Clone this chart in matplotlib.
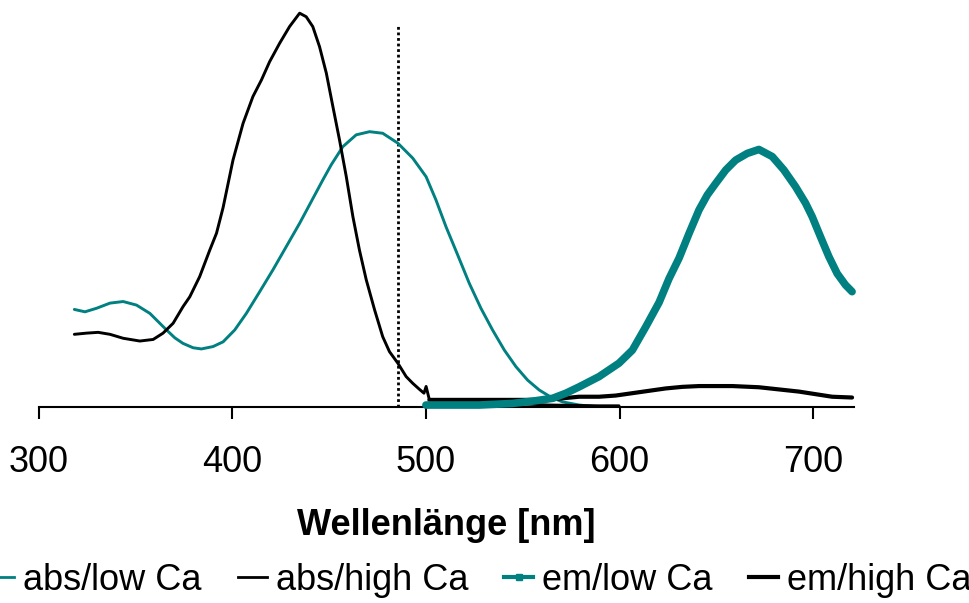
import numpy as np
import matplotlib
matplotlib.use("Agg")
from matplotlib import pyplot as plt
from matplotlib.lines import Line2D

plt.rcParams['font.family'] = ['Liberation Sans', 'DejaVu Sans']

TEAL = '#008080'

# absorption, low Ca (teal thin)
abs_low_x = [318.5, 324.0, 330.0, 336.9, 343.7, 350.6, 357.5, 361.8, 366.1, 370.4,
             374.6, 379.8, 384.1, 390.1, 395.3, 401.3, 407.3, 414.2, 421.0, 427.9,
             434.8, 440.8, 446.8, 451.1, 457.1, 464.0, 470.9, 477.7, 485.5, 493.2,
             500.1, 505.2, 510.4, 516.4, 522.4, 528.4, 534.4, 540.5, 546.5, 552.5,
             558.5, 564.5, 570.5, 579.1, 587.7, 599.7]
abs_low_y = [0.247, 0.241, 0.250, 0.263, 0.267, 0.258, 0.237, 0.216, 0.195, 0.175,
             0.161, 0.150, 0.147, 0.153, 0.165, 0.195, 0.237, 0.292, 0.347, 0.406,
             0.465, 0.520, 0.575, 0.613, 0.659, 0.689, 0.697, 0.693, 0.668, 0.630,
             0.583, 0.524, 0.456, 0.385, 0.313, 0.250, 0.195, 0.144, 0.102, 0.068,
             0.043, 0.025, 0.013, 0.005, 0.001, 0.0]

# absorption, high Ca (black thin)
abs_high_x = [318.5, 324.8, 330.8, 336.9, 343.7, 352.3, 359.2, 364.3, 369.5, 374.6,
              378.1, 383.2, 388.4, 391.9, 395.3, 400.4, 405.6, 410.7, 415.1, 419.3,
              424.5, 429.6, 434.8, 438.2, 441.6, 445.1, 448.6, 452.0, 455.4, 458.9,
              462.3, 465.7, 469.2, 473.5, 477.7, 481.2, 485.5, 489.8, 493.2, 496.6,
              499.0, 500.1, 501.8, 537.9, 563.7, 589.5, 599.7]
abs_high_y = [0.184, 0.187, 0.189, 0.184, 0.174, 0.167, 0.171, 0.187, 0.212, 0.254,
              0.279, 0.330, 0.397, 0.440, 0.505, 0.625, 0.718, 0.786, 0.828, 0.874,
              0.921, 0.963, 0.997, 0.988, 0.963, 0.912, 0.845, 0.760, 0.676, 0.583,
              0.482, 0.397, 0.322, 0.246, 0.178, 0.140, 0.111, 0.077, 0.060, 0.045,
              0.035, 0.052, 0.018, 0.010, 0.005, 0.003, 0.003]

# emission, low Ca (teal thick)
em_low_x = [500.0, 527.6, 544.7, 556.8, 565.4, 572.3, 579.1, 589.4, 599.7, 606.6,
            613.5, 620.4, 625.5, 630.7, 635.9, 641.0, 645.3, 649.6, 654.8, 659.9,
            665.9, 671.9, 678.8, 684.8, 690.8, 696.0, 699.4, 703.7, 708.0, 712.3,
            716.6, 720.0]
em_low_y = [0.005, 0.005, 0.009, 0.016, 0.022, 0.035, 0.051, 0.077, 0.111, 0.144,
            0.203, 0.265, 0.325, 0.377, 0.440, 0.499, 0.537, 0.566, 0.600, 0.625,
            0.642, 0.652, 0.634, 0.600, 0.558, 0.516, 0.482, 0.431, 0.381, 0.338,
            0.309, 0.292]

# emission, high Ca (black thick)
em_high_x = [501.8, 530.0, 562.0, 579.1, 589.4, 598.0, 606.6, 615.2, 623.8, 632.4,
             641.0, 658.2, 671.9, 692.6, 709.7, 720.0]
em_high_y = [0.018, 0.018, 0.018, 0.026, 0.026, 0.029, 0.035, 0.041, 0.047, 0.051,
             0.053, 0.053, 0.050, 0.039, 0.026, 0.024]

excitation_nm = 485.5
labels = ['abs/low Ca', 'abs/high Ca', 'em/low Ca', 'em/high Ca']
xticks = [300, 400, 500, 600, 700]

fig = plt.figure(figsize=(9.7, 6.03), dpi=100)
ax = fig.add_axes([38.5 / 970, 196 / 603, (854 - 38.5) / 970, 407 / 603])

style = dict(solid_joinstyle='round', solid_capstyle='round')
ax.plot(abs_low_x, abs_low_y, color=TEAL, lw=2.1, zorder=2, **style)
ax.plot(abs_high_x, abs_high_y, color='black', lw=2.1, zorder=2, **style)
ax.plot(em_high_x, em_high_y, color='black', lw=3.0, clip_on=False, zorder=3, **style)
ax.plot(em_low_x, em_low_y, color=TEAL, lw=5.5, clip_on=False, zorder=4, **style)
ax.plot([excitation_nm, excitation_nm], [0, 0.967], color='black', lw=2.0,
        linestyle=(0, (1, 1)), zorder=1)

ax.set_xlim(300, 721)
ax.set_ylim(0, 407 / 395)
for side in ['left', 'right', 'top']:
    ax.spines[side].set_visible(False)
ax.spines['bottom'].set_linewidth(1.5)
ax.set_yticks([])
ax.set_xticks(xticks)
ax.tick_params(axis='x', direction='out', length=8.5, width=1.5, labelsize=26, pad=19)
ax.set_xlabel('Wellenlänge [nm]', fontsize=26, fontweight='bold', labelpad=20)

handles = [
    Line2D([], [], color=TEAL, lw=2.0),
    Line2D([], [], color='black', lw=2.0),
    Line2D([], [], color=TEAL, lw=3.0, marker='s', markersize=4),
    Line2D([], [], color='black', lw=3.0),
]
fig.legend(handles, labels, loc='center', bbox_to_anchor=(0.493, 1 - 580 / 603),
           ncol=4, frameon=False, fontsize=26, handlelength=0.8, handletextpad=0.25,
           columnspacing=1.0, borderaxespad=0, borderpad=0)

fig.savefig('out.png', dpi=100)
